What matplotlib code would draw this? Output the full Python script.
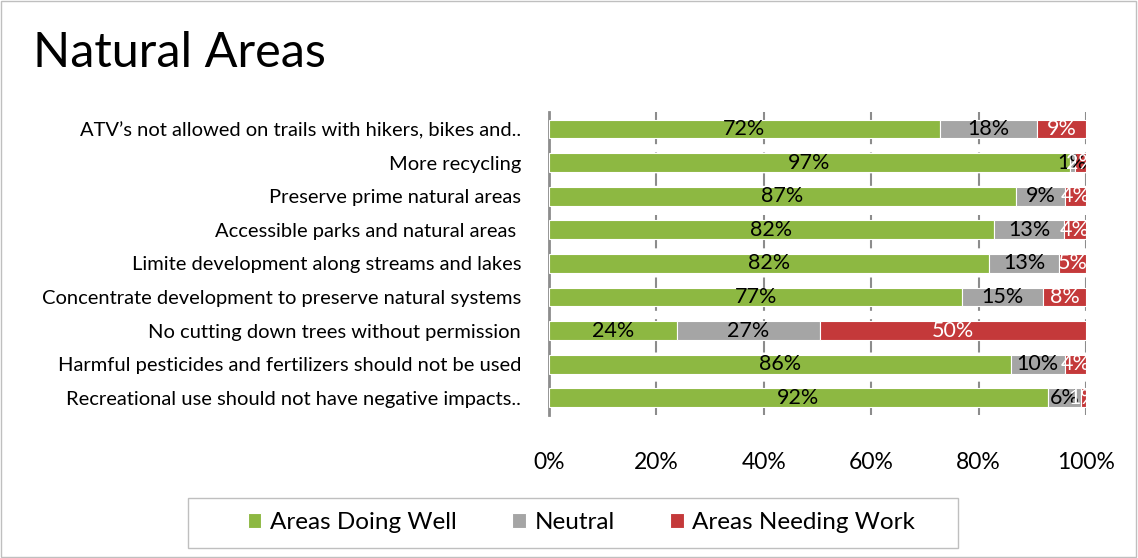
import numpy as np
import matplotlib.pyplot as plt
from matplotlib.patches import Rectangle

plt.rcParams['font.family'] = ['Lato', 'DejaVu Sans']

categories = [
    "ATV\u2019s not allowed on trails with hikers, bikes and..",
    "More recycling",
    "Preserve prime natural areas",
    "Accessible parks and natural areas ",
    "Limite development along streams and lakes",
    "Concentrate development to preserve natural systems",
    "No cutting down trees without permission",
    "Harmful pesticides and fertilizers should not be used",
    "Recreational use should not have negative impacts..",
]
doing_well = [72, 97, 87, 82, 82, 77, 24, 86, 92]
neutral = [18, 1, 9, 13, 13, 15, 27, 10, 6]
needing_work = [9, 2, 4, 4, 5, 8, 50, 4, 1]
series_names = ["Areas Doing Well", "Neutral", "Areas Needing Work"]
colors = ["#8DB842", "#A5A5A5", "#C4393A"]
text_colors = ["black", "black", "white"]

fig = plt.figure(figsize=(11.38, 5.58), dpi=100)
fig.patches.append(Rectangle((0.001, 0.001), 0.997, 0.997, transform=fig.transFigure,
                             fill=False, edgecolor="#BFBFBF", linewidth=1))
fig.text(0.029, 0.905, "Natural Areas", fontsize=35, ha="left", va="center")

ax = fig.add_axes([0.4824, 0.257, 0.4719, 0.542])

data = np.array([doing_well, neutral, needing_work], dtype=float)
totals = data.sum(axis=0)
shares = data / totals
y = np.arange(len(categories))

left = np.zeros(len(categories))
for i in range(3):
    ax.barh(y, shares[i], left=left, height=0.56, color=colors[i],
            edgecolor="white", linewidth=0.8, label=series_names[i], zorder=3)
    for j in range(len(categories)):
        ax.text(left[j] + shares[i][j] / 2, y[j], f"{int(data[i][j])}%",
                ha="center", va="center", fontsize=15.5, color=text_colors[i], zorder=4)
    left += shares[i]

ax.set_xlim(0, 1)
ax.set_ylim(len(categories) - 0.5, -0.5)
ax.set_yticks(y)
ax.set_yticklabels(categories, fontsize=14.5)
ax.set_xticks(np.linspace(0, 1, 6))
ax.set_xticklabels([f"{v}%" for v in range(0, 101, 20)], fontsize=16.5)
ax.tick_params(axis="y", length=0, pad=20)
ax.tick_params(axis="x", length=0, pad=27)
ax.xaxis.grid(True, linestyle=(0, (6, 4)), color="#8C8C8C", linewidth=1.5, zorder=0)
for s in ["top", "right", "bottom"]:
    ax.spines[s].set_visible(False)
ax.spines["left"].set_color("#8C8C8C")
ax.spines["left"].set_linewidth(2)

# legend with its own frame box
fig.patches.append(Rectangle((188 / 1138, 10 / 558), 770 / 1138, 50 / 558,
                             transform=fig.transFigure, fill=False,
                             edgecolor="#BFBFBF", linewidth=1))
fig.legend(loc="center", bbox_to_anchor=(0.511, 0.063), ncol=3, fontsize=17.5,
           frameon=False, handlelength=0.55, handleheight=0.55, handletextpad=0.35,
           columnspacing=2.3, borderpad=0, borderaxespad=0)

fig.savefig("out.png", dpi=100)
